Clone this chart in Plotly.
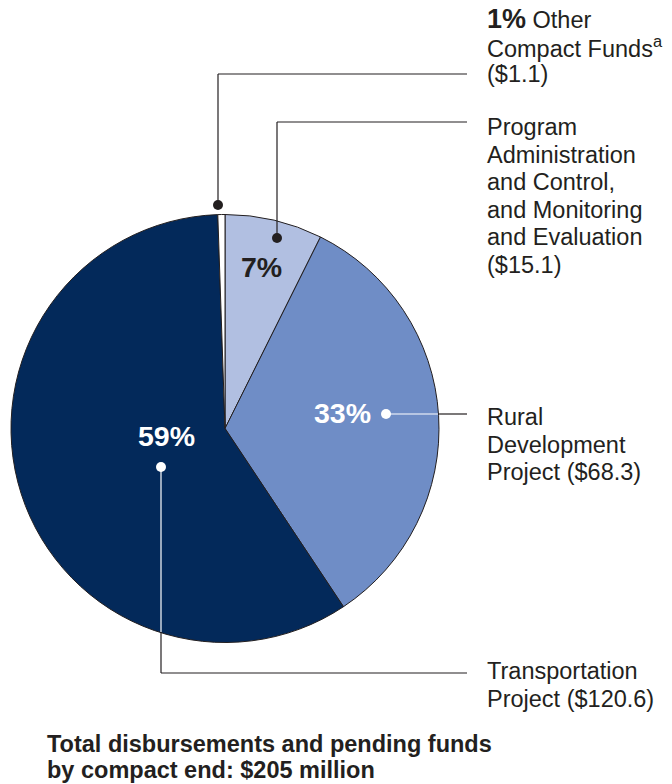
import plotly.graph_objects as go

# compact funds, in millions of dollars (clockwise from 12 o'clock)
categories = [
    'Program Administration and Control, and Monitoring and Evaluation',
    'Rural Development Project',
    'Transportation Project',
    'Other Compact Funds',
]
values = [15.1, 68.3, 120.6, 1.1]
colors = ['#b1bfe1', '#6f8dc6', '#03295a', '#ffffff']
total_label = 'by compact end: $205 million'

# page body has an 8px margin, so the figure is a bit smaller and the
# coordinate frame starts at 8
PAGE_W, PAGE_H = 672, 784
OFF = 8
W, H = PAGE_W - OFF, PAGE_H - OFF
FONT = 'Liberation Sans, Arial, Helvetica, sans-serif'
TXT = '#231f20'
LINE = '#231f20'

total = sum(values)
pct = [round(v / total * 100) for v in values]

fig = go.Figure()
fig.add_trace(go.Pie(
    labels=categories,
    values=values,
    sort=False,
    direction='clockwise',
    rotation=0,
    marker=dict(colors=colors, line=dict(color=LINE, width=1)),
    textinfo='none',
    hoverinfo='label+value+percent',
    showlegend=False,
    domain=dict(x=[(11 - OFF) / W, (439 - OFF) / W],
                y=[1 - (643 - OFF) / H, 1 - (214 - OFF) / H]),
))

shapes = []


def seg(x0, y0, x1, y1, color=LINE):
    shapes.append(dict(type='line', xref='x', yref='y', x0=x0, y0=y0, x1=x1, y1=y1,
                       line=dict(color=color, width=1.2), layer='above'))


def dot(x, y, color=LINE, r=5):
    shapes.append(dict(type='circle', xref='x', yref='y', x0=x - r, x1=x + r, y0=y - r, y1=y + r,
                       fillcolor=color, line=dict(width=0), layer='above'))


# leader lines
seg(218, 205, 218, 74); seg(218, 74, 467, 74); dot(218, 205)
seg(277, 238, 277, 122); seg(277, 122, 467, 122); dot(277, 238)
seg(386, 414, 438, 414, 'white'); seg(438, 414, 467, 414); dot(386, 414, 'white')
seg(161, 467, 161, 632, 'white'); seg(161, 632, 161, 673); seg(161, 673, 467, 673); dot(161, 467, 'white')

annotations = []


def text_lines(x, y0, lines, size=23.5, step=27.5, bold=False, color=TXT):
    for i, t in enumerate(lines):
        annotations.append(dict(
            x=x, y=y0 + i * step, xref='x', yref='y', text=f'<b>{t}</b>' if bold else t,
            showarrow=False, xanchor='left', yanchor='middle',
            font=dict(family=FONT, size=size, color=color),
        ))


text_lines(485, 19, [f"<span style='font-size:27px'><b>{pct[3]}%</b></span> Other",
                     'Compact Funds<sup>a</sup>', f'(${values[3]})'])
text_lines(485, 127, ['Program', 'Administration', 'and Control,', 'and Monitoring',
                      'and Evaluation', f'(${values[0]})'])
text_lines(485, 417, ['Rural', 'Development', f'Project (${values[1]})'])
text_lines(485, 671, ['Transportation', f'Project (${values[2]})'])
text_lines(45, 744, ['Total disbursements and pending funds', total_label], size=23.5, step=26, bold=True)


def pct_label(x, y, p, color):
    annotations.append(dict(
        x=x, y=y, xref='x', yref='y', text=f'<b>{p}%</b>', showarrow=False,
        xanchor='center', yanchor='middle', font=dict(family=FONT, size=28.5, color=color),
    ))


pct_label(261, 267, pct[0], TXT)
pct_label(342, 413, pct[1], 'white')
pct_label(166, 436, pct[2], 'white')

fig.update_layout(
    width=W, height=H,
    margin=dict(l=0, r=0, t=0, b=0),
    paper_bgcolor='white', plot_bgcolor='rgba(0,0,0,0)',
    xaxis=dict(range=[OFF, PAGE_W], visible=False, domain=[0, 1], fixedrange=True),
    yaxis=dict(range=[PAGE_H, OFF], visible=False, domain=[0, 1], fixedrange=True),
    shapes=shapes,
    annotations=annotations,
    showlegend=False,
)

fig.write_html('out.html')
